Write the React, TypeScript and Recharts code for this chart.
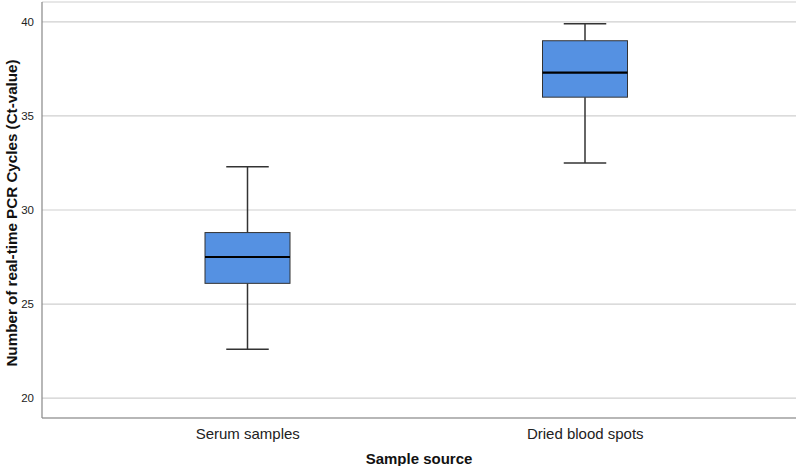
import React from "react";
import { ComposedChart, Bar, XAxis, YAxis, CartesianGrid } from "recharts";

const categories = ["Serum samples", "Dried blood spots"];
const minValues = [22.6, 32.5];
const q1Values = [26.1, 36.0];
const medianValues = [27.5, 37.3];
const q3Values = [28.8, 39.0];
const maxValues = [32.3, 39.9];
const yTicks = [20, 25, 30, 35, 40];

const data = categories.map((name, i) => ({
  name,
  range: [minValues[i], maxValues[i]],
  min: minValues[i],
  q1: q1Values[i],
  median: medianValues[i],
  q3: q3Values[i],
  max: maxValues[i],
}));

const FONT = "'Liberation Sans', Arial, sans-serif";

const BoxShape = (props: any) => {
  const { x, y, width, height, payload } = props;
  const top = Math.min(y, y + height);
  const bottom = Math.max(y, y + height);
  const { min, max, q1, median, q3 } = payload;
  const toPx = (v: number) => bottom - ((v - min) / (max - min)) * (bottom - top);
  const cx = x + width / 2;
  const capHalf = width * 0.25;
  const pq1 = toPx(q1);
  const pq3 = toPx(q3);
  const pm = toPx(median);
  const whisker = "#333333";
  return (
    <g>
      <line x1={cx} x2={cx} y1={top} y2={pq3} stroke={whisker} strokeWidth={1.5} />
      <line x1={cx} x2={cx} y1={pq1} y2={bottom} stroke={whisker} strokeWidth={1.5} />
      <line x1={cx - capHalf} x2={cx + capHalf} y1={top} y2={top} stroke={whisker} strokeWidth={1.5} />
      <line x1={cx - capHalf} x2={cx + capHalf} y1={bottom} y2={bottom} stroke={whisker} strokeWidth={1.5} />
      <rect x={x} y={pq3} width={width} height={pq1 - pq3} fill="#5591E2" stroke="#333333" strokeWidth={1} />
      <line x1={x} x2={x + width} y1={pm} y2={pm} stroke="#000000" strokeWidth={2.2} />
    </g>
  );
};

const YLabel = (props: any) => {
  const vb = props.viewBox || {};
  const cx = 11;
  const cy = vb.y + vb.height / 2 + 3;
  return (
    <text
      x={cx}
      y={cy}
      transform={`rotate(-90 ${cx} ${cy})`}
      textAnchor="middle"
      dominantBaseline="central"
      fontFamily={FONT}
      fontWeight="bold"
      fontSize={15.2}
      fill="#111"
    >
      Number of real-time PCR Cycles (Ct-value)
    </text>
  );
};

export default function App() {
  return (
    <div style={{ position: "absolute", left: 0, top: 0, background: "#fff" }}>
      <ComposedChart
        width={796}
        height={466}
        data={data}
        margin={{ top: 2, right: 0, bottom: 0, left: 0 }}
      >
        <CartesianGrid vertical={false} stroke="#cfcfcf" strokeWidth={1.2} />
        <XAxis
          dataKey="name"
          type="category"
          padding={{ left: 37, right: 42 }}
          height={48}
          axisLine={{ stroke: "#888888", strokeWidth: 1.2 }}
          tickLine={false}
          tick={{ fontFamily: FONT, fontSize: 15, fill: "#222" }}
          tickMargin={4}
          label={{
            value: "Sample source",
            position: "insideBottom",
            offset: 2,
            style: { fontFamily: FONT, fontWeight: "bold", fontSize: 15, fill: "#111" },
          }}
        />
        <YAxis
          type="number"
          domain={[18.94, 41.06]}
          ticks={yTicks}
          allowDataOverflow
          width={42}
          axisLine={{ stroke: "#888888", strokeWidth: 1.2 }}
          tickLine={false}
          tickMargin={2}
          tick={{ fontFamily: FONT, fontSize: 11.5, fill: "#222" }}
          label={<YLabel />}
        />
        <Bar dataKey="range" barSize={85} shape={<BoxShape />} isAnimationActive={false} />
      </ComposedChart>
    </div>
  );
}
